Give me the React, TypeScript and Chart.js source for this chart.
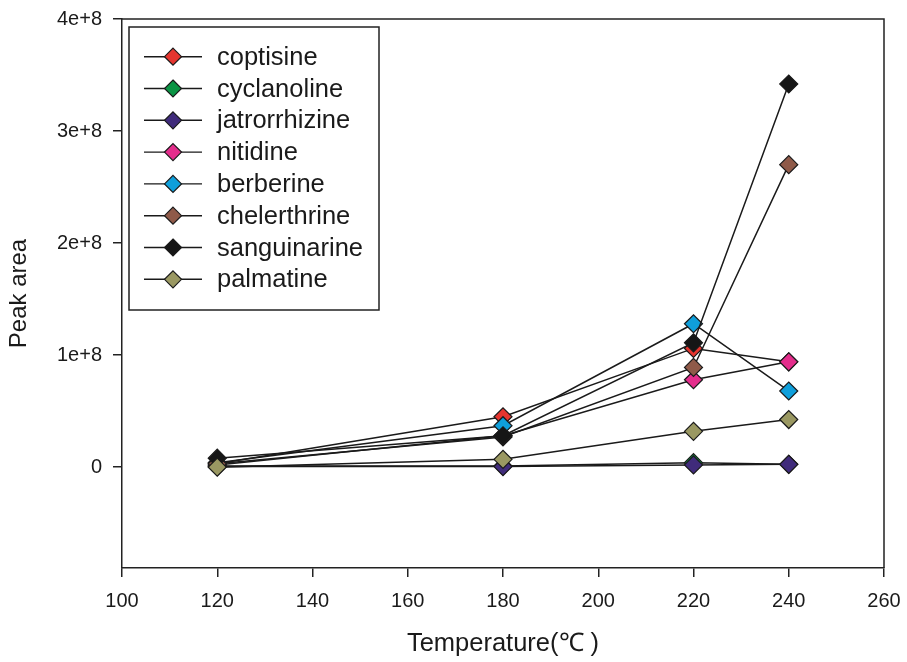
import React, { useEffect, useRef } from "react";
import { Chart, registerables } from "chart.js";

Chart.register(...registerables);

const temperatures = [120, 180, 220, 240];
const seriesNames = [
  "coptisine",
  "cyclanoline",
  "jatrorrhizine",
  "nitidine",
  "berberine",
  "chelerthrine",
  "sanguinarine",
  "palmatine",
];
const coptisine = [3e6, 45e6, 106e6, 94e6];
const cyclanoline = [1e6, 1e6, 4e6, 2.5e6];
const jatrorrhizine = [0.5e6, 0.5e6, 2e6, 2.5e6];
const nitidine = [2e6, 28e6, 78e6, 94e6];
const berberine = [4e6, 37e6, 128e6, 68e6];
const chelerthrine = [3e6, 27e6, 89e6, 270e6];
const sanguinarine = [8e6, 28e6, 111e6, 342e6];
const palmatine = [0, 7e6, 32e6, 42.5e6];
const seriesValues = [
  coptisine,
  cyclanoline,
  jatrorrhizine,
  nitidine,
  berberine,
  chelerthrine,
  sanguinarine,
  palmatine,
];
const seriesColors = [
  "#E5352F",
  "#0A9444",
  "#402B7B",
  "#E42D8C",
  "#0F9FDB",
  "#8F5A49",
  "#161616",
  "#9A9862",
];
const yTickValues = [0, 1e8, 2e8, 3e8, 4e8];
const xTickLabels = [100, 120, 140, 160, 180, 200, 220, 240, 260];

const FONT = '"Liberation Sans", Arial, sans-serif';

function diamond(ctx: CanvasRenderingContext2D, x: number, y: number, r: number, fill: string) {
  ctx.beginPath();
  ctx.moveTo(x, y - r);
  ctx.lineTo(x + r, y);
  ctx.lineTo(x, y + r);
  ctx.lineTo(x - r, y);
  ctx.closePath();
  ctx.fillStyle = fill;
  ctx.fill();
  ctx.lineWidth = 1.2;
  ctx.strokeStyle = "#1a1a1a";
  ctx.stroke();
}

const framePlugin = {
  id: "frame",
  beforeDatasetsDraw(chart: any) {
    const { ctx, chartArea } = chart;
    ctx.save();
    ctx.strokeStyle = "#222";
    ctx.lineWidth = 1.5;
    ctx.beginPath();
    ctx.moveTo(chartArea.left, chartArea.top);
    ctx.lineTo(chartArea.right, chartArea.top);
    ctx.lineTo(chartArea.right, chartArea.bottom);
    ctx.stroke();
    ctx.restore();
  },
};

const legendPlugin = {
  id: "customLegend",
  afterDraw(chart: any) {
    const { ctx, chartArea } = chart;
    const left = chartArea.left + 7;
    const top = chartArea.top + 8;
    const w = 250;
    const h = 283;
    ctx.save();
    ctx.fillStyle = "#fff";
    ctx.fillRect(left, top, w, h);
    ctx.strokeStyle = "#222";
    ctx.lineWidth = 1.5;
    ctx.strokeRect(left, top, w, h);
    seriesNames.forEach((name, i) => {
      const y = top + 29.7 + i * 31.8;
      ctx.beginPath();
      ctx.moveTo(left + 15, y);
      ctx.lineTo(left + 73, y);
      ctx.strokeStyle = "#1a1a1a";
      ctx.lineWidth = 1.4;
      ctx.stroke();
      diamond(ctx, left + 44, y, 8.5, seriesColors[i]);
      ctx.fillStyle = "#1a1a1a";
      ctx.font = `25.5px ${FONT}`;
      ctx.textBaseline = "middle";
      ctx.textAlign = "left";
      ctx.fillText(name, left + 88, y + 1);
    });
    ctx.restore();
  },
};

export default function App() {
  const ref = useRef<HTMLCanvasElement>(null);
  useEffect(() => {
    if (!ref.current) return;
    const chart = new Chart(ref.current, {
      type: "line",
      data: {
        datasets: seriesNames.map((name, i) => ({
          label: name,
          data: temperatures.map((t, j) => ({ x: t, y: seriesValues[i][j] })),
          borderColor: "#1a1a1a",
          borderWidth: 1.5,
          backgroundColor: seriesColors[i],
          pointBackgroundColor: seriesColors[i],
          pointBorderColor: "#1a1a1a",
          pointBorderWidth: 1.2,
          pointStyle: "rectRot",
          pointRadius: 9,
          tension: 0,
          fill: false,
          order: -i,
          clip: false as any,
        })),
      },
      options: {
        animation: false,
        responsive: true,
        maintainAspectRatio: false,
        layout: { padding: { top: 19, right: 23, left: 0, bottom: 0 } },
        plugins: {
          legend: { display: false },
          tooltip: { enabled: false },
        },
        scales: {
          x: {
            type: "linear",
            min: xTickLabels[0],
            max: xTickLabels[xTickLabels.length - 1],
            afterBuildTicks: (scale: any) => {
              scale.ticks = xTickLabels.map((v) => ({ value: v }));
            },
            afterFit: (scale: any) => {
              scale.height = 94;
              scale.paddingLeft = 0;
              scale.paddingRight = 0;
            },
            ticks: {
              font: { size: 20, family: FONT },
              color: "#1a1a1a",
              padding: 12,
              maxRotation: 0,
              callback: (v: any) => String(v),
            },
            grid: {
              drawOnChartArea: false,
              drawTicks: true,
              tickLength: 9,
              color: "#222",
              lineWidth: 1.5,
            },
            border: { display: true, color: "#222", width: 1.5 },
            title: {
              display: true,
              text: "Temperature(℃ )",
              font: { size: 25.5, family: FONT },
              color: "#1a1a1a",
              padding: { top: 0, bottom: 3 },
            },
          },
          y: {
            type: "linear",
            min: -9e7,
            max: 4e8,
            afterBuildTicks: (scale: any) => {
              scale.ticks = yTickValues.map((v) => ({ value: v }));
            },
            afterFit: (scale: any) => {
              scale.width = 122;
              scale.paddingTop = 0;
              scale.paddingBottom = 0;
            },
            ticks: {
              font: { size: 20, family: FONT },
              color: "#1a1a1a",
              padding: 11,
              callback: (v: any) => (v === 0 ? "0" : `${v / 1e8}e+8`),
            },
            grid: {
              drawOnChartArea: false,
              drawTicks: true,
              tickLength: 9,
              color: "#222",
              lineWidth: 1.5,
            },
            border: { display: true, color: "#222", width: 1.5 },
            title: {
              display: true,
              text: "Peak area",
              font: { size: 24, family: FONT },
              color: "#1a1a1a",
              padding: { top: 5, bottom: 0 },
            },
          },
        },
      },
      plugins: [framePlugin, legendPlugin],
    });
    return () => chart.destroy();
  }, []);
  return (
    <div style={{ position: "absolute", left: 0, top: 0, width: 907, height: 662, background: "#fff" }}>
      <canvas ref={ref} />
    </div>
  );
}
